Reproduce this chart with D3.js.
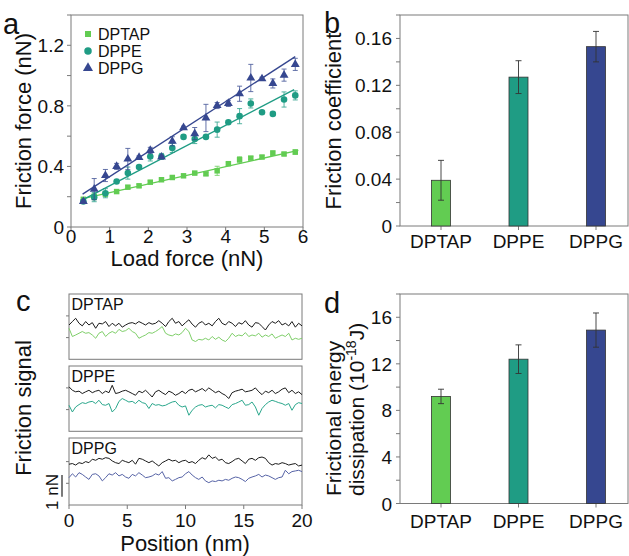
<!DOCTYPE html>
<html><head><meta charset="utf-8">
<script src="https://cdn.jsdelivr.net/npm/d3@7"></script>
<style>
html,body{margin:0;padding:0;background:#fff;}
svg{display:block;font-family:"Liberation Sans",Arial,sans-serif;}
</style></head>
<body>
<svg id="c" width="629" height="556"></svg>
<script>
// ---------- DATA ----------
const lipids = ["DPTAP","DPPE","DPPG"];
const colors = {DPTAP:"#62cc52", DPPE:"#1f9c84", DPPG:"#364790"};
const traceColors = {DPTAP:"#7fcf6a", DPPE:"#2aa78c", DPPG:"#5663a6"};

// panel a
const loadForce = [0.32,0.6,0.89,1.18,1.47,1.76,2.05,2.34,2.62,2.91,3.2,3.49,3.78,4.07,4.36,4.65,4.94,5.22,5.51,5.8];
const frictionDPTAP = [0.183,0.2,0.217,0.234,0.263,0.272,0.296,0.312,0.327,0.338,0.356,0.351,0.371,0.418,0.444,0.455,0.462,0.488,0.482,0.495];
const errDPTAP = [0.01,0.02,0.01,0.01,0.01,0.01,0.01,0.008,0.008,0.01,0.008,0.01,0.03,0.01,0.02,0.01,0.01,0.015,0.01,0.015];
const frictionDPPE = [0.168,0.197,0.223,0.30,0.356,0.396,0.466,0.466,0.522,0.595,0.581,0.595,0.643,0.692,0.732,0.816,0.758,0.747,0.842,0.869];
const errDPPE = [0.01,0.03,0.03,0.01,0.04,0.01,0.03,0.02,0.03,0.01,0.03,0.01,0.05,0.01,0.05,0.03,0.01,0.01,0.05,0.03];
const frictionDPPG = [0.168,0.25,0.34,0.40,0.449,0.46,0.506,0.462,0.566,0.656,0.617,0.72,0.802,0.816,0.88,0.984,0.979,0.948,1.003,1.074];
const errDPPG = [0.01,0.07,0.04,0.02,0.07,0.01,0.02,0.01,0.03,0.01,0.04,0.09,0.02,0.02,0.05,0.09,0.01,0.03,0.04,0.04];
// linear fits: [x0, y0, x1, y1]
const fitDPTAP = [0.28,0.186,5.88,0.506];
const fitDPPE = [0.3,0.179,5.77,0.907];
const fitDPPG = [0.3,0.217,5.8,1.125];
const aXTicks = [0,1,2,3,4,5,6];
const aYTicks = [0,0.2,0.4,0.6,0.8,1.0,1.2,1.4];
const aYLabels = [0,0.4,0.8,1.2];

// panel b
const frictionCoef = [0.039,0.127,0.153];
const frictionCoefErr = [0.017,0.014,0.013];
const bYTicks = [0,0.02,0.04,0.06,0.08,0.10,0.12,0.14,0.16,0.18];
const bYLabels = [0,0.04,0.08,0.12,0.16];

// panel d
const dissipation = [9.2,12.4,14.9];
const dissipationErr = [0.62,1.23,1.47];
const dYTicks = [0,2,4,6,8,10,12,14,16,18];
const dYLabels = [0,4,8,12,16];

// panel c (friction signal traces, nN; black = trace, coloured = retrace)
const position = [0,0.29,0.57,0.86,1.14,1.43,1.71,2,2.29,2.57,2.86,3.14,3.43,3.71,4,4.29,4.57,4.86,5.14,5.43,5.71,6,6.29,6.57,6.86,7.14,7.43,7.71,8,8.29,8.57,8.86,9.14,9.43,9.71,10,10.29,10.57,10.86,11.14,11.43,11.71,12,12.29,12.57,12.86,13.14,13.43,13.71,14,14.29,14.57,14.86,15.14,15.43,15.71,16,16.29,16.57,16.86,17.14,17.43,17.71,18,18.29,18.57,18.86,19.14,19.43,19.71,20];
const traceDPTAP = [1.58,1.74,1.89,1.66,1.54,1.74,1.58,1.69,1.43,1.66,1.63,1.74,1.51,1.66,1.54,1.66,1.48,1.58,1.66,1.69,1.63,1.74,1.66,1.58,1.69,1.62,1.66,1.78,1.66,1.51,1.74,1.89,1.66,1.74,1.54,1.69,1.82,1.62,1.48,1.66,1.74,1.58,1.66,1.54,1.74,1.89,1.66,1.58,1.74,1.66,1.51,1.69,1.62,1.78,1.58,1.48,1.69,1.66,1.51,1.35,1.58,1.74,1.66,1.78,1.58,1.66,1.54,1.74,1.48,1.66,1.54];
const retraceDPTAP = [1.43,1.05,1.12,1.20,1.28,1.20,1.23,1.12,0.97,1.20,1.28,1.05,1.20,1.28,1.20,1.38,1.28,1.32,1.43,1.28,1.20,0.97,1.05,1.12,1.23,1.20,1.28,1.38,1.51,1.20,1.12,1.08,1.17,1.12,1.23,1.43,1.28,0.89,0.82,0.92,0.89,0.97,0.89,1.05,0.92,1.02,0.89,0.82,0.97,1.20,1.05,1.12,1.08,1.23,1.05,1.12,1.08,1.20,1.02,1.12,1.05,1.17,0.97,1.05,1.12,1.05,1.20,0.89,0.97,0.92,0.97];
const traceDPPE = [2.05,1.89,1.82,1.85,1.74,1.82,1.89,1.78,1.85,1.89,1.74,1.85,1.78,2.12,1.74,1.78,1.85,1.89,1.82,1.74,1.66,1.85,1.78,1.89,1.74,1.58,1.82,1.89,1.78,1.69,1.85,1.78,1.66,1.74,1.85,1.74,1.89,1.94,1.82,1.89,1.97,1.85,2.00,1.89,1.78,1.85,1.74,1.66,1.51,1.78,1.85,1.89,1.94,1.82,1.85,1.89,2.00,1.82,1.69,1.85,1.78,1.89,1.74,1.82,1.94,2.00,1.78,1.89,1.74,1.82,1.69];
const retraceDPPE = [1.20,0.89,1.12,1.23,1.32,1.28,1.35,1.38,1.28,1.43,1.23,1.20,1.28,0.89,1.05,1.38,1.51,1.43,1.35,1.38,1.28,1.43,1.32,1.28,1.05,1.28,1.20,1.23,1.17,1.20,1.28,1.35,1.38,1.20,1.12,1.17,0.74,0.97,1.12,1.20,1.23,1.12,1.17,1.20,1.08,1.23,1.20,1.12,1.05,1.23,1.28,1.35,1.43,1.20,1.23,1.35,1.12,0.74,1.05,1.23,1.35,1.43,1.38,1.32,1.28,1.20,1.28,0.97,1.23,1.32,1.28];
const traceDPPG = [1.88,1.91,1.84,1.95,1.91,2.00,1.95,2.11,2.06,2.15,2.11,2.18,2.15,2.03,1.95,1.91,2.06,2.00,1.95,2.06,1.88,2.15,2.11,2.03,1.95,2.03,1.91,1.80,1.95,2.03,2.11,2.03,2.06,1.95,2.03,2.06,1.95,2.00,1.91,2.06,2.18,2.11,2.31,2.15,2.21,2.06,2.11,1.95,1.91,2.00,2.11,2.15,2.03,1.91,2.11,2.15,2.06,2.18,2.21,2.15,1.95,1.84,1.91,1.88,1.95,1.91,1.84,1.88,1.91,1.80,1.84];
const retraceDPPG = [1.26,1.44,1.29,1.49,1.41,1.29,1.18,1.41,1.44,1.34,1.11,1.26,1.44,1.38,1.49,1.34,1.41,1.29,1.23,1.41,1.34,1.49,1.38,1.26,1.29,1.34,1.44,1.38,1.54,1.23,1.26,1.11,1.18,1.26,1.29,1.44,1.54,1.38,1.26,1.18,1.29,1.11,1.03,1.11,1.08,1.14,1.11,1.18,1.14,1.23,1.29,1.26,1.18,1.08,1.23,1.29,1.34,1.41,1.29,1.38,1.34,1.26,1.18,1.26,1.29,1.60,1.44,1.54,1.57,1.60,1.54];
const cXTicks = [0,5,10,15,20];
const cYTicks = [1,2];
const scaleBarNN = 1;

// ---------- DRAWING ----------
const svg = d3.select("#c");
const AX = "#7a7a7a";
function frame(g,x0,x1,y0,y1){
  g.append("rect").attr("x",x0).attr("y",y0).attr("width",x1-x0).attr("height",y1-y0)
   .attr("fill","none").attr("stroke",AX).attr("stroke-width",1);
}
function panelLetter(t,x,y){
  svg.append("text").attr("x",x).attr("y",y).attr("font-size",29).attr("fill","#111").text(t);
}

// ===== Panel a =====
{
  const x = d3.scaleLinear().domain([0,6]).range([71,303]);
  const y = d3.scaleLinear().domain([0,1.4]).range([227,15]);
  const g = svg.append("g");
  frame(g,71,303,15,227);
  g.selectAll(".xt").data(aXTicks).join("line").attr("x1",d=>x(d)).attr("x2",d=>x(d))
    .attr("y1",227).attr("y2",231).attr("stroke",AX);
  g.selectAll(".xl").data(aXTicks).join("text").attr("x",d=>x(d)).attr("y",243)
    .attr("text-anchor","middle").attr("font-size",19).attr("fill","#111").text(d=>d);
  g.selectAll(".yt").data(aYTicks).join("line").attr("x1",67).attr("x2",71)
    .attr("y1",d=>y(d)).attr("y2",d=>y(d)).attr("stroke",AX);
  g.selectAll(".yl").data(aYLabels).join("text").attr("x",64).attr("y",d=>y(d)+7)
    .attr("text-anchor","end").attr("font-size",19).attr("fill","#111").text(d=>d===0?"0":d.toFixed(1));
  svg.append("text").attr("transform","translate(31,121) rotate(-90)").attr("text-anchor","middle")
    .attr("font-size",22).attr("fill","#111").text("Friction force (nN)");
  svg.append("text").attr("x",187).attr("y",266).attr("text-anchor","middle")
    .attr("font-size",22).attr("fill","#111").text("Load force (nN)");

  const series = [
    {name:"DPTAP", v:frictionDPTAP, e:errDPTAP, fit:fitDPTAP, shape:d3.symbolSquare, size:30},
    {name:"DPPE", v:frictionDPPE, e:errDPPE, fit:fitDPPE, shape:d3.symbolCircle, size:34},
    {name:"DPPG", v:frictionDPPG, e:errDPPG, fit:fitDPPG, shape:d3.symbolTriangle, size:34}
  ];
  series.forEach(s=>{
    const c = colors[s.name];
    g.append("line").attr("x1",x(s.fit[0])).attr("y1",y(s.fit[1])).attr("x2",x(s.fit[2])).attr("y2",y(s.fit[3]))
      .attr("stroke",c).attr("stroke-width",1.4);
    const pts = loadForce.map((lf,i)=>({x:lf,y:s.v[i],e:s.e[i]}));
    const eg = g.append("g").attr("stroke",c).attr("stroke-width",0.9).attr("opacity",0.85);
    pts.forEach(p=>{
      eg.append("line").attr("x1",x(p.x)).attr("x2",x(p.x)).attr("y1",y(p.y-p.e)).attr("y2",y(p.y+p.e));
      eg.append("line").attr("x1",x(p.x)-2.5).attr("x2",x(p.x)+2.5).attr("y1",y(p.y-p.e)).attr("y2",y(p.y-p.e));
      eg.append("line").attr("x1",x(p.x)-2.5).attr("x2",x(p.x)+2.5).attr("y1",y(p.y+p.e)).attr("y2",y(p.y+p.e));
    });
    g.selectAll(null).data(pts).join("path")
      .attr("d",d3.symbol().type(s.shape).size(s.size))
      .attr("transform",d=>`translate(${x(d.x)},${y(d.y)})`).attr("fill",c);
  });
  // legend
  series.forEach((s,i)=>{
    const ly = 34 + i*17;
    svg.append("path").attr("d",d3.symbol().type(s.shape).size(s.name==="DPTAP"?36:44))
      .attr("transform",`translate(88,${ly})`).attr("fill",colors[s.name]);
    svg.append("text").attr("x",98).attr("y",ly+6).attr("font-size",16).attr("fill","#111").text(s.name);
  });
}

// ===== bar panels b & d =====
function barPanel(top,bottom,maxV,values,errs,ticks,labels,fmt,labelY){
  const x = d3.scalePoint().domain(lipids).range([441,596]);
  const y = d3.scaleLinear().domain([0,maxV]).range([bottom,top]);
  const g = svg.append("g");
  frame(g,400,628,top,bottom);
  g.selectAll(null).data(ticks).join("line").attr("x1",396).attr("x2",400)
    .attr("y1",d=>y(d)).attr("y2",d=>y(d)).attr("stroke",AX);
  g.selectAll(null).data(labels).join("text").attr("x",392).attr("y",d=>y(d)+7)
    .attr("text-anchor","end").attr("font-size",19).attr("fill","#111").text(fmt);
  g.selectAll(null).data(lipids).join("line").attr("x1",d=>x(d)).attr("x2",d=>x(d))
    .attr("y1",bottom).attr("y2",bottom+4).attr("stroke",AX);
  g.selectAll(null).data(lipids).join("text").attr("x",d=>x(d)).attr("y",labelY)
    .attr("text-anchor","middle").attr("font-size",19).attr("fill","#111").text(d=>d);
  const bw = 19;
  g.selectAll(null).data(lipids).join("rect")
    .attr("x",d=>x(d)-bw/2).attr("width",bw)
    .attr("y",(d,i)=>y(values[i])).attr("height",(d,i)=>bottom-y(values[i]))
    .attr("fill",d=>colors[d]).attr("stroke","#333").attr("stroke-width",0.8);
  lipids.forEach((d,i)=>{
    const cx = x(d), hi=y(values[i]+errs[i]), lo=y(values[i]-errs[i]);
    g.append("line").attr("x1",cx).attr("x2",cx).attr("y1",hi).attr("y2",lo).attr("stroke","#333").attr("stroke-width",0.9);
    g.append("line").attr("x1",cx-3).attr("x2",cx+3).attr("y1",hi).attr("y2",hi).attr("stroke","#333").attr("stroke-width",0.9);
    g.append("line").attr("x1",cx-3).attr("x2",cx+3).attr("y1",lo).attr("y2",lo).attr("stroke","#333").attr("stroke-width",0.9);
  });
}
barPanel(15,226,0.18,frictionCoef,frictionCoefErr,bYTicks,bYLabels,d=>d===0?"0":d.toFixed(2),248);
svg.append("text").attr("transform","translate(341,121) rotate(-90)").attr("text-anchor","middle")
  .attr("font-size",22).attr("fill","#111").text("Friction coefficient");
barPanel(294,503.5,18,dissipation,dissipationErr,dYTicks,dYLabels,d=>d,528);
{
  svg.append("text").attr("transform","translate(341,496) rotate(-90)")
    .attr("font-size",21).attr("fill","#111").text("Frictional energy");
  const t2 = svg.append("text").attr("transform","translate(364,496) rotate(-90)")
    .attr("font-size",21).attr("fill","#111");
  t2.append("tspan").text("dissipation (10");
  t2.append("tspan").attr("font-size",14).attr("dy",-8).text("-18");
  t2.append("tspan").attr("dy",8).text("J)");
}

// ===== Panel c =====
{
  const x = d3.scaleLinear().domain([0,20]).range([69,302]);
  const pxPerNN = 21.7;
  const subs = [
    {name:"DPTAP", top:294, bottom:359.3, tr:traceDPTAP, rt:retraceDPTAP},
    {name:"DPPE", top:366, bottom:431.3, tr:traceDPPE, rt:retraceDPPE},
    {name:"DPPG", top:438, bottom:505, tr:traceDPPG, rt:retraceDPPG}
  ];
  let lastY;
  subs.forEach(s=>{
    const y = d3.scaleLinear().domain([0,(s.bottom-s.top)/pxPerNN]).range([s.bottom,s.top]);
    lastY = y;
    const g = svg.append("g");
    frame(g,69,302,s.top,s.bottom);
    g.selectAll(null).data(cYTicks).join("line").attr("x1",66).attr("x2",69)
      .attr("y1",d=>y(d)).attr("y2",d=>y(d)).attr("stroke",AX);
    const line = d3.line().x((d,i)=>x(position[i])).y(d=>y(d));
    g.append("path").attr("d",line(s.rt)).attr("fill","none").attr("stroke",traceColors[s.name]).attr("stroke-width",1);
    g.append("path").attr("d",line(s.tr)).attr("fill","none").attr("stroke","#1a1a1a").attr("stroke-width",1);
    g.append("text").attr("x",71.5).attr("y",s.top+16).attr("font-size",16).attr("fill","#111").text(s.name);
  });
  svg.selectAll(null).data(cXTicks).join("line").attr("x1",d=>x(d)).attr("x2",d=>x(d))
    .attr("y1",505).attr("y2",509).attr("stroke",AX);
  svg.selectAll(null).data(cXTicks).join("text").attr("x",d=>x(d)).attr("y",527)
    .attr("text-anchor","middle").attr("font-size",19).attr("fill","#111").text(d=>d);
  svg.append("text").attr("x",185).attr("y",551).attr("text-anchor","middle")
    .attr("font-size",22).attr("fill","#111").text("Position (nm)");
  svg.append("text").attr("transform","translate(31,408) rotate(-90)").attr("text-anchor","middle")
    .attr("font-size",22).attr("fill","#111").text("Friction signal");
  // scale bar 1 nN
  const barLen = lastY(0)-lastY(scaleBarNN);
  svg.append("line").attr("x1",62).attr("x2",62).attr("y1",475).attr("y2",475+barLen)
    .attr("stroke","#222").attr("stroke-width",1.2);
  svg.append("text").attr("transform","translate(58,492) rotate(-90)").attr("text-anchor","middle")
    .attr("font-size",17).attr("fill","#111").text("1 nN");
}

panelLetter("a",3,34);
panelLetter("b",324,33);
panelLetter("c",16,311);
panelLetter("d",324,313);
</script>
</body></html>
